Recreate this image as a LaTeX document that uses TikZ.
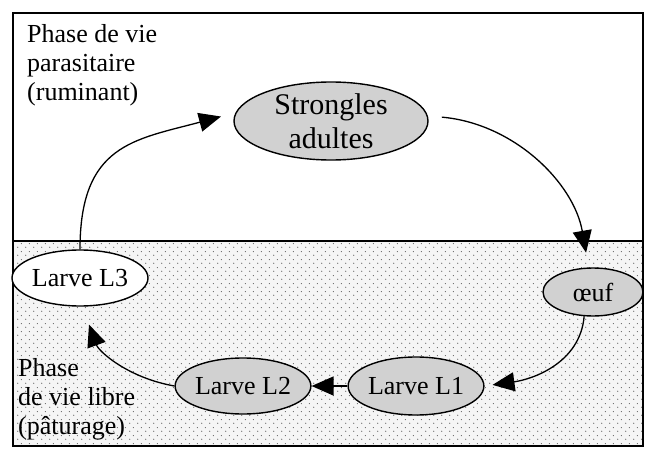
\documentclass[tikz,border=0pt]{standalone}
\usepackage{fontspec}
\setmainfont{Liberation Serif}
\usetikzlibrary{arrows.meta,shapes.geometric,patterns}
\pgfdeclarepatternformonly{stipple}{\pgfpointorigin}{\pgfqpoint{8pt}{8pt}}{\pgfqpoint{8pt}{8pt}}{%
  \pgfpathcircle{\pgfqpoint{2pt}{2pt}}{0.65pt}%
  \pgfpathcircle{\pgfqpoint{6pt}{6pt}}{0.65pt}%
  \pgfusepath{fill}}

\begin{document}
\begin{tikzpicture}[x=1pt,y=1pt,font=\fontsize{26}{29}\selectfont,
  stade/.style={draw,ellipse,line width=1.4pt,fill=black!18,inner sep=0pt,
    minimum width=124pt,minimum height=56pt},
  fleche/.style={-{Triangle[length=22pt,width=19pt]},line width=1.3pt}]
\useasboundingbox (0,0) rectangle (645,448);
% zone de vie libre
\fill[black!4] (13,2) rectangle (643,207);
\fill[pattern=stipple,pattern color=black!60] (13,2) rectangle (643,207);
\draw[line width=1.6pt] (13,2) rectangle (643,435);
\draw[line width=1.8pt] (13,207) -- (643,207);
\node[anchor=north west,align=left,inner sep=0pt] (parasite) at (27,424)
 {Phase de vie\\parasitaire\\(ruminant)};
\node[anchor=north west,align=left,inner sep=0pt] (libre) at (18,90)
 {Phase\\de vie libre\\(pâturage)};
% stades
\node[stade,minimum width=194pt,minimum height=78pt,align=center,
  font=\fontsize{30}{34}\selectfont] (adultes) at (331,327) {Strongles\\adultes};
\node[stade,fill=white,minimum width=136pt] (l3) at (80,170) {Larve L3};
\node[stade,minimum width=100pt,minimum height=48pt] (oeuf) at (593,156) {œuf};
\node[stade] (l2) at (243,62) {Larve L2};
\node[stade,minimum height=58pt] (l1) at (416,62) {Larve L1};
% cycle
\draw[fleche,shorten >=15pt] (l3.north) to[out=90,in=195,looseness=1.3] (adultes.175);
\draw[fleche,shorten <=14pt,shorten >=15pt] (adultes.3) to[out=-5,in=100] (oeuf.100);
\draw[fleche,shorten >=8pt] (oeuf.250) to[out=-95,in=8] (l1.east);
\draw[fleche] (l1.west) -- (l2.east);
\draw[fleche,shorten >=19pt] (l2.west) to[out=170,in=-70] (l3.275);
\end{tikzpicture}
\end{document}
